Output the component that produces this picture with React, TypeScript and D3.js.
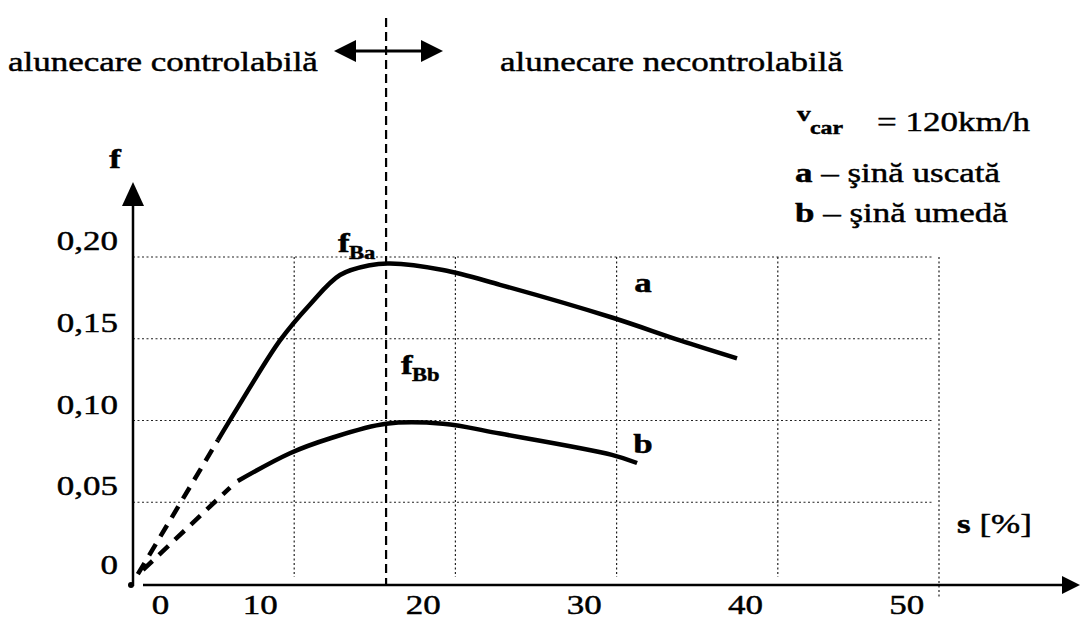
import React, { useEffect } from 'react';
import * as d3 from 'd3';

// slip s [%] vs adhesion f
const curveA = [
  [5.27, 0.088], [6.5, 0.108], [9.12, 0.149], [10.98, 0.171], [12.84, 0.189],
  [14.7, 0.195], [15.94, 0.196], [19.23, 0.192], [22.77, 0.183], [29.71, 0.163],
  [33.93, 0.149], [37.47, 0.138],
];
const curveADash = [[0.3, 0.006], [5.27, 0.088]];
const curveB = [
  [6.5, 0.063], [9.74, 0.08], [12.2, 0.089], [15.7, 0.098], [19.23, 0.098],
  [22.77, 0.092], [29.71, 0.079], [31.27, 0.074],
];
const curveBDash = [[0.62, 0.0086], [6.02, 0.059]];

const yTicks = [0, 0.05, 0.1, 0.15, 0.2];
const yTickLabels = ['0', '0,05', '0,10', '0,15', '0,20'];
const xGrid = [10, 20, 30, 40, 50];
const xTickLabels = ['0', '10', '20', '30', '40', '50'];
const xTickAt = [1.7, 7.9, 18, 28, 38, 48]; // labels sit left of the grid in the scan
const sCritical = 15.7;

const SX = 1.25; // scan is stretched horizontally

const T = ({ x, y, size = 28, weight = 'normal', anchor = 'start', children }: any) => (
  <text
    transform={`translate(${x},${y}) scale(${SX},1)`}
    fontSize={size}
    fontWeight={weight}
    textAnchor={anchor}
    fill="#000"
    stroke="#000"
    strokeWidth={0.45}
  >
    {children}
  </text>
);

export default function App() {
  useEffect(() => {
    document.body.style.margin = '0';
  }, []);

  const x = d3.scaleLinear().domain([0, 50]).range([133, 939]);
  const y = d3.scaleLinear().domain([0, 0.2]).range([584, 257]);

  const smooth = d3.line<number[]>()
    .x(d => x(d[0]))
    .y(d => y(d[1]))
    .curve(d3.curveCatmullRom.alpha(0.5));
  const straight = d3.line<number[]>().x(d => x(d[0])).y(d => y(d[1]));

  const axisY = 585;

  return (
    <svg width={1080} height={619} style={{ display: 'block', background: '#fff' }}
      fontFamily="'Liberation Serif', 'Times New Roman', serif">
      {/* grid */}
      <g stroke="#222" strokeWidth={1.2} strokeDasharray="2 2.5">
        {yTicks.slice(1).map(v => (
          <line key={v} x1={x(0)} x2={x(49.6)} y1={y(v)} y2={y(v)} />
        ))}
        {xGrid.map(v => (
          <line key={v} x1={x(v)} x2={x(v)} y1={y(0.2)} y2={v === 50 ? 598 : 577} />
        ))}
      </g>

      {/* critical slip */}
      <line x1={x(sCritical)} x2={x(sCritical)} y1={18} y2={axisY}
        stroke="#000" strokeWidth={2.2} strokeDasharray="9 5" />

      {/* axes */}
      <line x1={x(0)} x2={x(0)} y1={axisY + 1} y2={200} stroke="#000" strokeWidth={2.5} />
      <polygon points={`${x(0)},182 ${x(0) - 11},206 ${x(0) + 11},206`} fill="#000" />
      <circle cx={x(0) - 2} cy={axisY} r={3} fill="#000" />
      <line x1={143} x2={1066} y1={axisY} y2={axisY} stroke="#000" strokeWidth={2.5} />
      <polygon points={`1080,${axisY} 1062,${axisY - 9} 1062,${axisY + 9}`} fill="#000" />

      {/* curves */}
      <g fill="none" stroke="#000" strokeWidth={4.5} strokeLinecap="butt">
        <path d={straight(curveADash) || ''} strokeDasharray="13 9" />
        <path d={straight(curveBDash) || ''} strokeDasharray="13 9" />
        <path d={smooth(curveA) || ''} />
        <path d={smooth(curveB) || ''} />
      </g>

      {/* tick labels */}
      {yTicks.map((v, i) => (
        <T key={v} x={118} y={y(v) - (v === 0 ? 10 : 7)} anchor="end">{yTickLabels[i]}</T>
      ))}
      {xTickLabels.map((t, i) => (
        <T key={t} x={x(xTickAt[i])} y={614} anchor="middle">{t}</T>
      ))}

      {/* axis titles */}
      <T x={115} y={168} weight="bold" anchor="middle">f</T>
      <T x={957} y={533}>
        <tspan fontWeight="bold">s</tspan> [%]
      </T>

      {/* curve labels */}
      <T x={643} y={292} weight="bold" anchor="middle">a</T>
      <T x={643} y={453} weight="bold" anchor="middle">b</T>
      <T x={338} y={252} size={28} weight="bold">f</T>
      <T x={349} y={259} size={18} weight="bold">Ba</T>
      <T x={401} y={374} size={28} weight="bold">f</T>
      <T x={412} y={381} size={18} weight="bold">Bb</T>

      {/* top annotation */}
      <T x={8} y={71}>alunecare controlabilă</T>
      <T x={500} y={71}>alunecare necontrolabilă</T>
      <line x1={350} x2={428} y1={51} y2={51} stroke="#000" strokeWidth={3} />
      <polygon points="334,51 356,40 356,62" fill="#000" />
      <polygon points="443,51 421,40 421,62" fill="#000" />

      {/* legend */}
      <T x={797} y={121} size={22} weight="bold">v</T>
      <T x={810} y={134} size={19} weight="bold">car</T>
      <T x={877} y={131}>= 120km/h</T>
      <T x={795} y={182}><tspan fontWeight="bold">a</tspan> – şină uscată</T>
      <T x={795} y={222}><tspan fontWeight="bold">b</tspan> – şină umedă</T>
    </svg>
  );
}
